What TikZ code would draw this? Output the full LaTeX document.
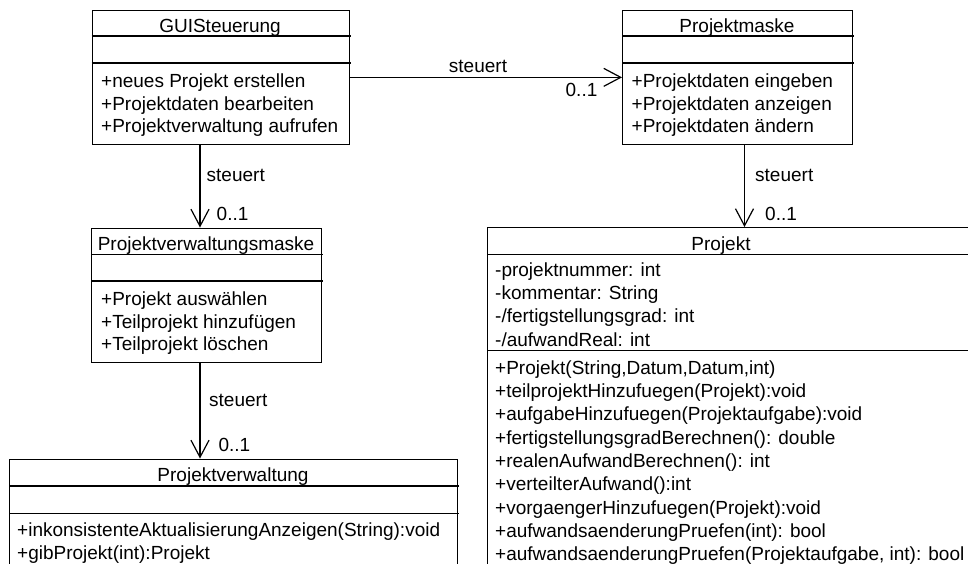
\documentclass[tikz,border=0pt]{standalone}
\usepackage{fontspec}
\setmainfont{Liberation Sans}
\usetikzlibrary{arrows.meta}
\tikzset{
  cls/.style={draw, line width=1.2pt, anchor=north west, inner sep=0pt, minimum width=#1},
  txt/.style={anchor=base west, inner sep=0pt, font=\fontsize{19}{22}\selectfont},
  ttl/.style={anchor=base, inner sep=0pt, font=\fontsize{19}{22}\selectfont},
  sep/.style={line width=1.2pt},
  assoc/.style={line width=1.2pt, -{Straight Barb[length=17pt,width=18pt,line width=1.2pt]}},
}
\begin{document}
\begin{tikzpicture}[x=1pt,y=-1pt]
\clip (0,0) rectangle (968,563);
\fill[white] (0,0) rectangle (968,563);
% class boxes
\node[cls=257pt, minimum height=134.5pt] (gui) at (91.5,9.5) {};
\node[cls=229.5pt, minimum height=134.5pt] (pm) at (622,9.5) {};
\node[cls=230pt, minimum height=134pt] (pvm) at (91,227.5) {};
\node[cls=447.5pt, minimum height=150pt] (pv) at (9,458.5) {};
\node[cls=492.5pt, minimum height=400pt] (pj) at (487,227) {};
% separators
\draw[sep] (91.5,36) -- (350.5,36);
\draw[sep] (91.5,63) -- (350.5,63);
\draw[sep] (622,36) -- (853.5,36);
\draw[sep] (622,63) -- (853.5,63);
\draw[sep] (91,254.5) -- (323,254.5);
\draw[sep] (91,281) -- (323,281);
\draw[sep] (9,486) -- (458.5,486);
\draw[sep] (9,513.5) -- (458.5,513.5);
\draw[sep] (487,254.5) -- (975,254.5);
\draw[sep] (487,350.5) -- (975,350.5);
% GUISteuerung
\node[ttl] (guit) at (220,32) {GUISteuerung};
\node[txt] (guo1) at (101,87.5) {+neues Projekt erstellen};
\node[txt] (guo2) at (101,110) {+Projektdaten bearbeiten};
\node[txt] (guo3) at (101,132.5) {+Projektverwaltung aufrufen};
% Projektmaske
\node[ttl] (pmt) at (737,32) {Projektmaske};
\node[txt] (pmo1) at (631.5,87.5) {+Projektdaten eingeben};
\node[txt] (pmo2) at (631.5,110) {+Projektdaten anzeigen};
\node[txt] (pmo3) at (631.5,132.5) {+Projektdaten ändern};
% Projektverwaltungsmaske
\node[ttl] (pvmt) at (206,250) {Projektverwaltungsmaske};
\node[txt] (pvmo1) at (101,305.5) {+Projekt auswählen};
\node[txt] (pvmo2) at (101,328) {+Teilprojekt hinzufügen};
\node[txt] (pvmo3) at (101,350.5) {+Teilprojekt löschen};
% Projektverwaltung
\node[ttl] (pvt) at (233,481.5) {Projektverwaltung};
\node[txt] (pvo1) at (17,536.5) {+inkonsistenteAktualisierungAnzeigen(String):void};
\node[txt] (pvo2) at (17,559.5) {+gibProjekt(int):Projekt};
% Projekt
\node[ttl] (pjt) at (721,250) {Projekt};
\node[txt] (pja1) at (495,276) {-projektnummer: int};
\node[txt] (pja2) at (495,299.3) {-kommentar: String};
\node[txt] (pja3) at (495,322.7) {-/fertigstellungsgrad: int};
\node[txt] (pja4) at (495,346) {-/aufwandReal: int};
\node[txt] (pjo1) at (495,374) {+Projekt(String,Datum,Datum,int)};
\node[txt] (pjo2) at (495,397.3) {+teilprojektHinzufuegen(Projekt):void};
\node[txt] (pjo3) at (495,420.7) {+aufgabeHinzufuegen(Projektaufgabe):void};
\node[txt] (pjo4) at (495,444) {+fertigstellungsgradBerechnen(): double};
\node[txt] (pjo5) at (495,467.3) {+realenAufwandBerechnen(): int};
\node[txt] (pjo6) at (495,490.7) {+verteilterAufwand():int};
\node[txt] (pjo7) at (495,514) {+vorgaengerHinzufuegen(Projekt):void};
\node[txt] (pjo8) at (495,537.3) {+aufwandsaenderungPruefen(int): bool};
\node[txt] (pjo9) at (495,560.7) {+aufwandsaenderungPruefen(Projektaufgabe, int): bool};
% connectors
\coordinate (xa) at (200,0);
\coordinate (xb) at (744.5,0);
\draw[assoc] (gui.east) -- (pm.west);
\draw[assoc] (gui.south -| xa) -- (pvm.north -| xa);
\draw[assoc] (pvm.south -| xa) -- (pv.north -| xa);
\draw[assoc] (pm.south -| xb) -- (pj.north -| xb);
% labels
\node[ttl] (l1) at (478,72.5) {steuert};
\node[ttl] (m1) at (581.5,96.5) {0..1};
\node[txt] (l2) at (206.5,181.7) {steuert};
\node[txt] (m2) at (216.5,220) {0..1};
\node[txt] (l3) at (209,406.7) {steuert};
\node[txt] (m3) at (218.3,451.7) {0..1};
\node[txt] (l4) at (755,181.7) {steuert};
\node[txt] (m4) at (765,220) {0..1};
\end{tikzpicture}
\end{document}
